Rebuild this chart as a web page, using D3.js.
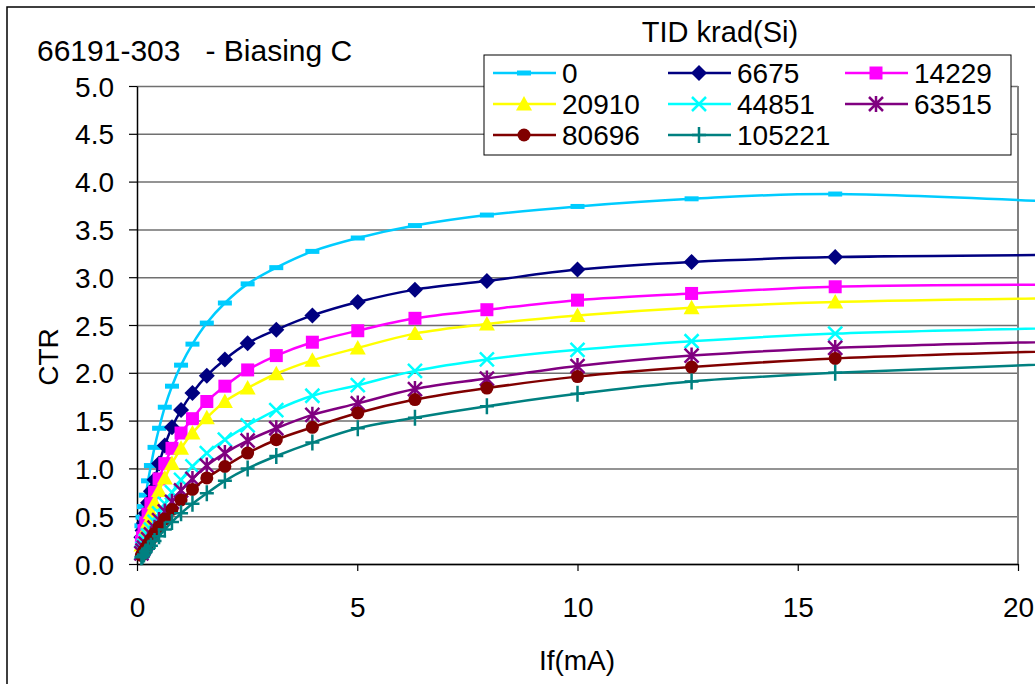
<!doctype html>
<html lang="en">
<head>
    <meta charset="UTF-8">
    <title>CTR vs If</title>
    <script src="https://cdnjs.cloudflare.com/ajax/libs/d3/7.8.5/d3.min.js"></script>
    <style>
        body { margin: 0; background: #fff; }
        svg { display: block; }
        text { font-family: "Liberation Sans", Arial, sans-serif; fill: #000; }
    </style>
</head>
<body>
<svg id="chart" width="1035" height="684"></svg>

<script>
    // forward current (mA) sample points
    var ifValues = [0.1, 0.126, 0.158, 0.2, 0.251, 0.316, 0.398, 0.501, 0.631, 0.794, 1.0, 1.259,
        1.585, 1.995, 2.512, 3.162, 3.981, 5.012, 6.31, 7.943, 10, 12.59, 15.85, 25.1];

    // CTR per TID level (krad(Si))
    var ctr0 = [0.40, 0.49, 0.60, 0.72, 0.87, 1.03, 1.22, 1.42, 1.64, 1.86, 2.08, 2.30,
        2.52, 2.73, 2.93, 3.10, 3.27, 3.41, 3.54, 3.65, 3.74, 3.82, 3.87, 3.69];
    var ctr6675 = [0.28, 0.35, 0.43, 0.53, 0.64, 0.76, 0.88, 1.05, 1.24, 1.43, 1.61, 1.79,
        1.97, 2.14, 2.31, 2.45, 2.60, 2.74, 2.87, 2.96, 3.08, 3.16, 3.21, 3.24];
    var ctr14229 = [0.23, 0.28, 0.35, 0.43, 0.52, 0.63, 0.75, 0.89, 1.05, 1.21, 1.37, 1.52,
        1.70, 1.86, 2.03, 2.18, 2.32, 2.44, 2.57, 2.66, 2.76, 2.83, 2.90, 2.92];
    var ctr20910 = [0.20, 0.24, 0.29, 0.36, 0.44, 0.54, 0.64, 0.77, 0.90, 1.05, 1.21, 1.37,
        1.53, 1.70, 1.84, 1.99, 2.13, 2.26, 2.41, 2.51, 2.60, 2.68, 2.74, 2.80];
    var ctr44851 = [0.12, 0.16, 0.19, 0.24, 0.30, 0.36, 0.44, 0.53, 0.63, 0.75, 0.88, 1.02,
        1.16, 1.30, 1.45, 1.61, 1.76, 1.87, 2.02, 2.14, 2.24, 2.33, 2.41, 2.50];
    var ctr63515 = [0.11, 0.14, 0.17, 0.21, 0.26, 0.31, 0.38, 0.46, 0.55, 0.65, 0.77, 0.89,
        1.03, 1.16, 1.29, 1.42, 1.56, 1.68, 1.83, 1.94, 2.07, 2.18, 2.26, 2.37];
    var ctr80696 = [0.09, 0.11, 0.14, 0.17, 0.21, 0.26, 0.32, 0.39, 0.47, 0.57, 0.67, 0.78,
        0.90, 1.02, 1.16, 1.30, 1.43, 1.58, 1.72, 1.84, 1.96, 2.06, 2.15, 2.28];
    var ctr105221 = [0.07, 0.08, 0.10, 0.13, 0.16, 0.19, 0.24, 0.29, 0.36, 0.44, 0.53, 0.63,
        0.74, 0.87, 1.00, 1.13, 1.27, 1.42, 1.53, 1.65, 1.78, 1.91, 2.00, 2.16];

    var seriesNames = ["0", "6675", "14229", "20910", "44851", "63515", "80696", "105221"];
    var seriesValues = [ctr0, ctr6675, ctr14229, ctr20910, ctr44851, ctr63515, ctr80696, ctr105221];
    var seriesColors = ["#00CCFF", "#000080", "#FF00FF", "#FFFF00", "#00FFFF", "#800080", "#800000", "#008080"];
    var seriesMarkers = ["dash", "diamond", "square", "triangle", "x", "asterisk", "circle", "plus"];

    var xTicks = [0, 5, 10, 15, 20];
    var yTicks = [0, 0.5, 1, 1.5, 2, 2.5, 3, 3.5, 4, 4.5, 5];

    var svg = d3.select('#chart');

    var plotLeft = 137, plotRight = 1018, plotTop = 86, plotBottom = 564;

    var x = d3.scaleLinear().domain([0, 20]).range([plotLeft, plotRight]);
    var y = d3.scaleLinear().domain([0, 5]).range([plotBottom, plotTop]);

    // chart area border (runs off the picture on right and bottom)
    svg.append('rect')
        .attr('x', 7).attr('y', 7).attr('width', 1100).attr('height', 750)
        .attr('fill', 'none').attr('stroke', '#000').attr('stroke-width', 1.5);

    // gridlines
    svg.append('g')
        .attr('transform', 'translate(' + plotLeft + ',0)')
        .call(d3.axisLeft(y).tickValues(yTicks).tickSize(-(plotRight - plotLeft)).tickFormat(''))
        .call(function (g) { g.select('.domain').remove(); })
        .selectAll('line').attr('stroke', '#707070').attr('stroke-width', 1.5);

    // plot area right border
    svg.append('line')
        .attr('x1', plotRight).attr('x2', plotRight).attr('y1', plotTop).attr('y2', plotBottom)
        .attr('stroke', '#808080').attr('stroke-width', 2);

    // axes
    var yAxis = svg.append('g')
        .attr('transform', 'translate(' + plotLeft + ',0)')
        .call(d3.axisLeft(y).tickValues(yTicks).tickFormat(d3.format('.1f')).tickSize(8).tickSizeOuter(0).tickPadding(15));
    yAxis.selectAll('text').attr('font-size', '28px').attr('dy', '0.36em');

    var xAxis = svg.append('g')
        .attr('transform', 'translate(0,' + plotBottom + ')')
        .call(d3.axisBottom(x).tickValues(xTicks).tickSize(7).tickSizeOuter(0).tickPadding(26));
    xAxis.selectAll('text').attr('font-size', '28px');

    [yAxis, xAxis].forEach(function (g) {
        g.select('.domain').attr('stroke', '#000').attr('stroke-width', 1.5);
        g.selectAll('.tick line').attr('stroke', '#000').attr('stroke-width', 1.2);
        g.selectAll('text').attr('fill', '#000').attr('font-family', '"Liberation Sans", Arial, sans-serif');
    });

    // titles
    svg.append('text').attr('x', 37).attr('y', 61).attr('font-size', '30px')
        .attr('xml:space', 'preserve').text('66191-303   - Biasing C');
    svg.append('text').attr('x', 720).attr('y', 42).attr('font-size', '29px')
        .attr('text-anchor', 'middle').text('TID krad(Si)');
    svg.append('text').attr('x', 577).attr('y', 670).attr('font-size', '28px')
        .attr('text-anchor', 'middle').text('If(mA)');
    svg.append('text').attr('transform', 'translate(58,357) rotate(-90)').attr('font-size', '28px')
        .attr('text-anchor', 'middle').text('CTR');

    function markerPath(type) {
        switch (type) {
            case 'dash': return 'M-7,-2.5H7V2.5H-7Z';
            case 'diamond': return 'M0,-8L8,0L0,8L-8,0Z';
            case 'square': return 'M-6.5,-6.5H6.5V6.5H-6.5Z';
            case 'triangle': return 'M0,-8L8,6.5H-8Z';
            case 'circle': return 'M-6.5,0A6.5,6.5 0 1,0 6.5,0A6.5,6.5 0 1,0 -6.5,0Z';
            case 'x': return 'M-7,-7L7,7M-7,7L7,-7';
            case 'asterisk': return 'M-7,-7L7,7M-7,7L7,-7M0,-8V8';
            case 'plus': return 'M-7,0H7M0,-8V8';
        }
    }
    var strokeMarkers = ['x', 'asterisk', 'plus'];

    function drawMarker(g, type, color, px, py) {
        var p = g.append('path')
            .attr('d', markerPath(type))
            .attr('transform', 'translate(' + px + ',' + py + ')');
        if (strokeMarkers.indexOf(type) >= 0) {
            p.attr('fill', 'none').attr('stroke', color).attr('stroke-width', 2.5);
        } else {
            p.attr('fill', color).attr('stroke', 'none');
        }
    }

    var line = d3.line()
        .x(function (d) { return x(d[0]); })
        .y(function (d) { return y(d[1]); })
        .curve(d3.curveCatmullRom.alpha(0.5));

    seriesValues.forEach(function (vals, i) {
        var pts = ifValues.map(function (v, k) { return [v, vals[k]]; });
        var g = svg.append('g');
        g.append('path').datum(pts).attr('d', line)
            .attr('fill', 'none').attr('stroke', seriesColors[i]).attr('stroke-width', 2.5);
        pts.forEach(function (p) {
            drawMarker(g, seriesMarkers[i], seriesColors[i], x(p[0]), y(p[1]));
        });
    });

    // legend
    var lg = svg.append('g');
    lg.append('rect').attr('x', 484).attr('y', 55).attr('width', 527).attr('height', 100)
        .attr('fill', '#fff').attr('stroke', '#000').attr('stroke-width', 1);
    var colX = [493, 668, 845], rowY = [73, 104, 135];
    seriesNames.forEach(function (name, i) {
        var cx = colX[i % 3], cy = rowY[Math.floor(i / 3)];
        lg.append('line').attr('x1', cx).attr('x2', cx + 63).attr('y1', cy).attr('y2', cy)
            .attr('stroke', seriesColors[i]).attr('stroke-width', 2.5);
        drawMarker(lg, seriesMarkers[i], seriesColors[i], cx + 31, cy);
        lg.append('text').attr('x', cx + 69).attr('y', cy + 10).attr('font-size', '28px').text(name);
    });
</script>
</body>
</html>
